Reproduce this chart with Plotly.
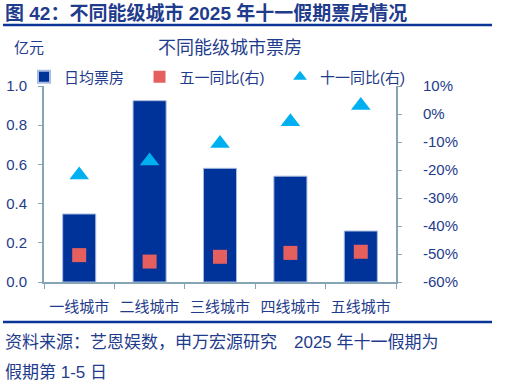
import plotly.graph_objects as go

categories = ["一线城市", "二线城市", "三线城市", "四线城市", "五线城市"]
daily_box_office = [0.347, 0.925, 0.58, 0.54, 0.26]   # 亿元
may_day_yoy = [-50.4, -52.7, -51.0, -49.6, -49.2]      # %
national_day_yoy = [-21.8, -16.8, -10.5, -2.8, 3.0]    # %

left_ticks = [0, 0.2, 0.4, 0.6, 0.8, 1.0]
right_ticks = [-60, -50, -40, -30, -20, -10, 0, 10]
right_tick_text = [f"{v}%" for v in right_ticks]

FONT = "Liberation Sans, Arial, Noto Sans CJK SC, sans-serif"
TXT = "#1f3c8c"
AXIS = "#86a6b8"
BAR = "#003399"
SQ = "#e65f5f"
TRI = "#00b0f0"
PAD = "\u2002\u2009"

fig = go.Figure()
fig.add_trace(go.Bar(
    x=categories, y=daily_box_office, name="日均票房" + PAD,
    marker=dict(color=BAR, line=dict(color="#aabbe0", width=1)),
    width=0.47, yaxis="y",
))
fig.add_trace(go.Scatter(
    x=categories, y=may_day_yoy, name="五一同比(右)" + PAD, mode="markers",
    marker=dict(symbol="square", size=14, color=SQ), yaxis="y2",
))
fig.add_trace(go.Scatter(
    x=categories, y=national_day_yoy, name="十一同比(右)", mode="markers",
    marker=dict(symbol="triangle-up", size=17, color=TRI), yaxis="y2",
))

def py(p):
    return (282 - p) / 196.0

def px(x):
    return (x - 44) / 352.0

fig.update_layout(
    width=508, height=381,
    margin=dict(l=44, r=112, t=86, b=99, autoexpand=False),
    paper_bgcolor="white", plot_bgcolor="white",
    font=dict(family=FONT, size=15, color=TXT),
    showlegend=True,
    legend=dict(orientation="h", x=px(24), xanchor="left", y=py(77), yanchor="middle",
                font=dict(size=15, color=TXT), bgcolor="rgba(0,0,0,0)",
                itemsizing="constant", traceorder="normal"),
    xaxis=dict(type="category", showline=True, linecolor=AXIS, linewidth=2,
               ticks="outside", tickson="boundaries", ticklen=5, tickcolor=AXIS,
               tickwidth=1, showgrid=False, tickfont=dict(size=15, color=TXT),
               ticklabelstandoff=10, automargin=False),
    yaxis=dict(range=[0, 1.0], tickvals=left_ticks, tickformat=".1f",
               showline=True, linecolor=AXIS, linewidth=2, ticks="outside",
               ticklen=4, tickcolor=AXIS, showgrid=False, zeroline=False,
               tickfont=dict(size=15, color=TXT), ticklabelstandoff=8, automargin=False),
    yaxis2=dict(range=[-60, 10], tickvals=right_ticks, ticktext=right_tick_text,
                overlaying="y", side="right", showline=True, linecolor=AXIS,
                linewidth=2, ticks="outside", ticklen=4, tickcolor=AXIS,
                showgrid=False, zeroline=False, automargin=False,
                tickfont=dict(size=15, color=TXT), ticklabelstandoff=18),
    bargap=0.5,
)

annotations = [
    dict(text="<b>图 42：不同能级城市 2025 年十一假期票房情况</b>", x=px(3), y=py(13),
         xanchor="left", yanchor="middle", font=dict(size=19, color=TXT)),
    dict(text="亿元", x=px(12), y=py(48), xanchor="left", yanchor="middle",
         font=dict(size=15, color=TXT)),
    dict(text="不同能级城市票房", x=px(230), y=py(48), xanchor="center", yanchor="middle",
         font=dict(size=18, color=TXT)),
    dict(text="资料来源：艺恩娱数，申万宏源研究　2025 年十一假期为", x=px(3), y=py(342),
         xanchor="left", yanchor="middle", font=dict(size=17, color=TXT)),
    dict(text="假期第 1-5 日", x=px(3), y=py(372),
         xanchor="left", yanchor="middle", font=dict(size=17, color=TXT)),
]
for a in annotations:
    a.update(xref="paper", yref="paper", showarrow=False)
fig.update_layout(annotations=annotations)

fig.update_layout(shapes=[
    dict(type="line", xref="paper", yref="paper", x0=px(3), x1=px(492), y0=py(25), y1=py(25),
         line=dict(color="#0a3496", width=2.5)),
    dict(type="line", xref="paper", yref="paper", x0=px(3), x1=px(492), y0=py(322), y1=py(322),
         line=dict(color="#0a3496", width=2.5)),
])

fig.write_html("out.html", config={"displayModeBar": False},
               post_script="document.body.style.margin='0';")
